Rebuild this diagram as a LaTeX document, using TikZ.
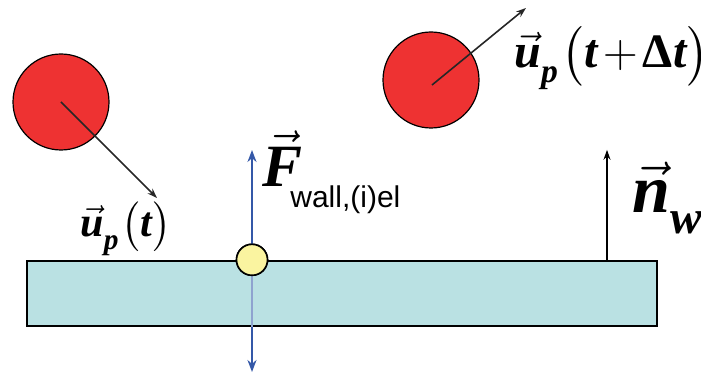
\documentclass[tikz,border=0pt]{standalone}
\usepackage{fix-cm}
\usepackage{amsmath}
\usepackage{fontspec}
\newfontfamily\arialfont{Liberation Sans}
\newfontfamily\timesfont{Liberation Serif}
\usetikzlibrary{arrows.meta, calc, positioning}

\definecolor{pred}{RGB}{238,50,50}
\definecolor{wcyan}{RGB}{186,225,227}
\definecolor{fblue}{RGB}{52,88,168}
\definecolor{cyel}{RGB}{250,244,160}

% bold italic Times-like letter for the labels
\newcommand{\bil}[1]{\text{\timesfont\bfseries\itshape #1}}
% subscript set a little lower than usual
\newcommand{\lowsub}[2]{_{\raisebox{-#1}{$\scriptstyle\bil{#2}$}}}

\begin{document}
\begin{tikzpicture}[
        x=0.5pt, y=-0.5pt,
        >=Stealth,
        particle/.style={
            draw, circle, fill=pred,
            line width=0.6pt,
            minimum size=48pt, inner sep=0pt
        },
        contact/.style={
            draw, circle, fill=cyel,
            line width=0.8pt,
            minimum size=15.5pt, inner sep=0pt
        },
        wallbox/.style={
            draw, rectangle, fill=wcyan,
            line width=1.2pt,
            minimum width=315pt, minimum height=32.5pt, inner sep=0pt
        },
        velo/.style={->, line width=0.8pt, black!85, >={Stealth[length=5pt,width=3.5pt]}},
        force/.style={<->, line width=1.1pt, fblue, >={Stealth[length=6pt,width=4.5pt]}},
        lab/.style={inner sep=0pt, anchor=base west},
    ]
    \useasboundingbox (0,0) rectangle (701,379);

    %============================================================
    % Wall
    %============================================================
    \node[wallbox] (wall) at (342,293.5) {};

    % Wall normal
    \coordinate (nbase) at (607,0 |- wall.north);
    \draw[velo, black] (nbase) -- ++(0,-110) coordinate (ntip);
    \node[lab, font=\fontsize{34}{36}\selectfont] (nw) at (632,213) {$\vec{\bil{n}}\lowsub{5pt}{w}$};

    %============================================================
    % Particle at t and at t + dt
    %============================================================
    \node[particle] (pl) at (61,102) {};
    \node[particle] (pr) at (431,80) {};

    \coordinate (ltip) at (157,198);
    \coordinate (rtip) at (526,8);
    \draw[velo] (pl.center) -- (ltip);
    \draw[velo] ($(pr.center)+(1,5)$) -- (rtip);

    \node[lab, font=\fontsize{21}{24}\selectfont] (ul) at (80,237)
        {$\vec{\bil{u}}\lowsub{3pt}{p}\mkern1mu\bigl(\bil{t}\bigr)$};
    \node[lab, font=\fontsize{24}{28}\selectfont] (ur) at (514,68)
        {$\vec{\bil{u}}\lowsub{3.5pt}{p}\mkern1mu\bigl(\bil{t}\mkern-2mu+\mkern-2mu\text{\timesfont\bfseries\char"0394}\bil{t}\bigr)$};

    %============================================================
    % Contact point and wall force
    %============================================================
    \node[contact] (cp) at (252,0 |- wall.north) {};
    \coordinate (ftop) at (252,150);
    \coordinate (fbot) at (252,372);
    \draw[force] (fbot) -- (ftop);
    \draw[fblue!55, line width=1.1pt] (cp.south) -- (cp.south |- wall.south);
    \node[contact] at (cp) {};

    \node[lab, font=\fontsize{30}{32}\selectfont] (fv) at (262,187) {$\vec{\bil{F}}$};
    \node[lab, font=\arialfont\fontsize{15}{17}\selectfont] (fsub) at (290,208) {wall,(i)el};

\end{tikzpicture}
\end{document}
